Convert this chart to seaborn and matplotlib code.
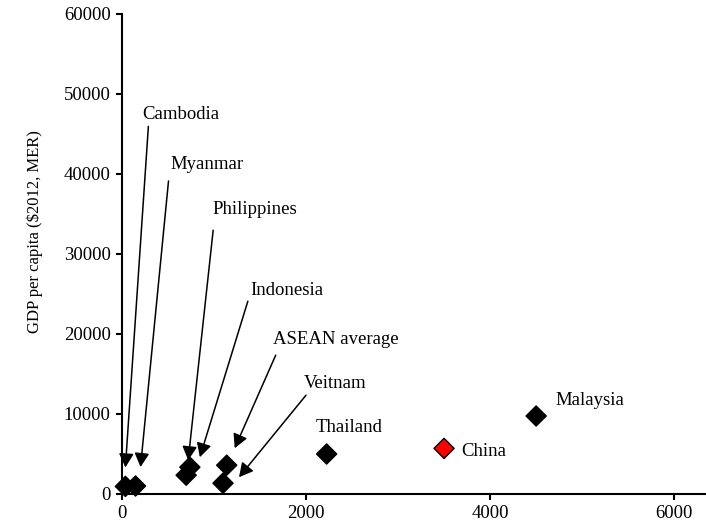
import matplotlib
matplotlib.use("Agg")
import matplotlib.pyplot as plt
from matplotlib.transforms import offset_copy
import pandas as pd
import seaborn as sns

# Economies and their values
countries = ["Cambodia", "Myanmar", "Philippines", "Indonesia", "ASEAN average",
             "Veitnam", "Thailand", "China", "Malaysia"]
x_values = [40, 150, 700, 740, 1140, 1100, 2225, 3500, 4500]
gdp_per_capita = [950, 1000, 2350, 3350, 3600, 1350, 5000, 5700, 9750]
groups = ["ASEAN", "ASEAN", "ASEAN", "ASEAN", "ASEAN", "ASEAN", "ASEAN", "China", "ASEAN"]

x_ticks = [0, 2000, 4000, 6000]
y_ticks = [0, 10000, 20000, 30000, 40000, 50000, 60000]
y_label = "GDP per capita ($2012, MER)"

df = pd.DataFrame({"country": countries, "x": x_values,
                   "gdp": gdp_per_capita, "group": groups})

# Label placement in pixels relative to each marker:
# text (left, baseline), and for arrowed labels the arrow tail and tip.
text_offsets = {
    "Cambodia": (17, 367), "Myanmar": (35, 317), "Philippines": (26, 261),
    "Indonesia": (60, 172), "ASEAN average": (46, 121), "Veitnam": (81, 95),
    "Thailand": (-11, 22), "China": (17, -8), "Malaysia": (19, 11),
}
arrow_offsets = {
    "Cambodia": ((23, 360), (0, 19)),
    "Myanmar": ((33, 305), (5, 19)),
    "Philippines": ((27, 245), (2, 15)),
    "Indonesia": ((58, 166), (10, 10)),
    "ASEAN average": ((49, 110), (8, 17)),
    "Veitnam": ((83, 88), (16, 6)),
}

sns.set_style("ticks")
plt.rcParams["font.family"] = ["Liberation Serif", "DejaVu Serif"]
plt.rcParams["axes.linewidth"] = 1.5
plt.rcParams["text.color"] = "black"
plt.rcParams["axes.labelcolor"] = "black"
plt.rcParams["axes.edgecolor"] = "black"

fig = plt.figure(figsize=(7.06, 5.29), dpi=100)
ax = fig.add_axes([121.7 / 706, 35 / 529, 1 - 121.7 / 706, 480 / 529])

sns.scatterplot(data=df, x="x", y="gdp", hue="group",
                palette={"ASEAN": "black", "China": "#ff0000"},
                marker="D", s=105, edgecolor="black", linewidth=1,
                legend=False, ax=ax, zorder=3, clip_on=False)

ax.set_xlim(0, 6344)
ax.set_ylim(0, 60000)
ax.set_xticks(x_ticks)
ax.set_yticks(y_ticks)
ax.tick_params(axis="both", direction="out", length=4.5, width=1.5,
               labelsize=13.5, pad=3.5, colors="black")
ax.set_xlabel("")
ax.set_ylabel(y_label, fontsize=12, color="black")
ax.yaxis.label.set_va("center")
ax.yaxis.set_label_coords((35 - 121.7) / 584.3, (494 - 231.5) / 480)
sns.despine(ax=ax)

for _, row in df.iterrows():
    name = row["country"]
    px, py = row["x"], row["gdp"]
    dx, dy = text_offsets[name]
    ax.annotate(name, xy=(px, py), xycoords="data", xytext=(dx, dy),
                textcoords="offset pixels", ha="left", va="baseline",
                fontsize=13.5, color="black")
    if name in arrow_offsets:
        (tx, ty), (hx, hy) = arrow_offsets[name]
        tail = offset_copy(ax.transData, fig=fig, x=tx, y=ty, units="dots")
        tip = offset_copy(ax.transData, fig=fig, x=hx, y=hy, units="dots")
        ax.annotate("", xy=(px, py), xycoords=tip, xytext=(px, py), textcoords=tail,
                    arrowprops=dict(arrowstyle="-|>,head_length=0.6,head_width=0.32",
                                    mutation_scale=14, color="black", lw=1.1,
                                    shrinkA=0, shrinkB=0))

fig.savefig("out.png", dpi=100)
